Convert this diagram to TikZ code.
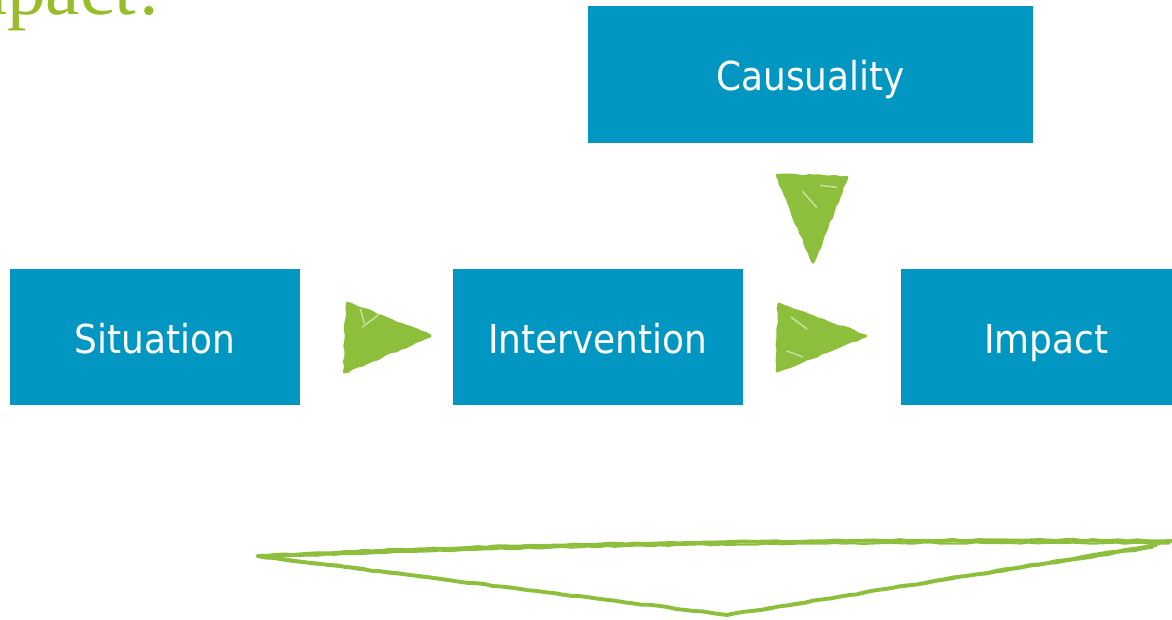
\documentclass[tikz,border=0pt]{standalone}
\usepackage{fontspec}
\setsansfont{DejaVu Sans}[FakeStretch=0.9]
\newfontfamily\headfont{Liberation Serif}
\usepackage{xcolor}
\usepackage{tikz}
\usetikzlibrary{positioning,calc,decorations.pathmorphing}
\definecolor{boxblue}{RGB}{2,150,194}
\definecolor{sketchgreen}{RGB}{141,190,60}
\definecolor{headgreen}{RGB}{152,189,42}

\begin{document}
\begin{tikzpicture}[x=0.02cm, y=-0.02cm,
    stepbox/.style={rectangle, fill=boxblue, text=white, minimum width=5.8cm, minimum height=2.74cm, inner sep=0pt, text height=18.9pt, text depth=0.2pt, font=\sffamily\fontsize{22.7}{26}\selectfont},
    sketchfill/.style={fill=sketchgreen, draw=sketchgreen, line width=1.6pt, line join=round, decorate, decoration={random steps, segment length=3pt, amplitude=0.5pt}},
    streak/.style={draw=white, opacity=0.55, line width=0.8pt, line cap=round},
    sketchline/.style={draw=sketchgreen, line width=2.2pt, line join=round, line cap=round, decorate, decoration={random steps, segment length=5pt, amplitude=0.35pt}}]
            \pgfmathsetseed{7}
            \useasboundingbox (0,0) rectangle (1172,619);
            \clip (0,0) rectangle (1172,619);

            %Nodes
            \node[font=\headfont\fontsize{44}{48}\selectfont, text=headgreen, anchor=base west, inner sep=0pt](heading) at (-79,14){Impact!};
            \node[stepbox](situation) at (155,337){Situation};
            \node[stepbox](intervention)[right=3.04cm of situation]{Intervention};
            \node[stepbox](impact)[right=3.16cm of intervention]{Impact};
            \node[stepbox, minimum width=8.9cm](causuality) at (810.5,74.5){Causuality};

            %Arrows
            \fill[sketchgreen] ($(situation.east)+(47,-34)$) -- ($(situation.east)+(130,-1)$) -- ($(situation.east)+(44,35)$) -- cycle;
            \path[sketchfill] ($(situation.east)+(47,-34)$) -- ($(situation.east)+(130,-1)$) -- ($(situation.east)+(44,35)$) -- cycle;
            \draw[streak] ($(situation.east)+(62,-10)$) -- ($(situation.east)+(78,-22)$);
            \draw[streak] ($(situation.east)+(60,-28)$) -- ($(situation.east)+(64,-14)$);
            \fill[sketchgreen] ($(intervention.east)+(36,-33)$) -- ($(intervention.east)+(123,-1)$) -- ($(intervention.east)+(34,34)$) -- cycle;
            \path[sketchfill] ($(intervention.east)+(36,-33)$) -- ($(intervention.east)+(123,-1)$) -- ($(intervention.east)+(34,34)$) -- cycle;
            \draw[streak] ($(intervention.east)+(48,-20)$) -- ($(intervention.east)+(64,-8)$);
            \draw[streak] ($(intervention.east)+(44,14)$) -- ($(intervention.east)+(60,20)$);
            \fill[sketchgreen] ($(causuality.south)+(-33.5,32)$) -- ($(causuality.south)+(36.5,34)$) -- ($(causuality.south)+(2.5,119)$) -- cycle;
            \path[sketchfill] ($(causuality.south)+(-33.5,32)$) -- ($(causuality.south)+(36.5,34)$) -- ($(causuality.south)+(2.5,119)$) -- cycle;
            \draw[streak] ($(causuality.south)+(-8,48)$) -- ($(causuality.south)+(6,64)$);
            \draw[streak] ($(causuality.south)+(10,42)$) -- ($(causuality.south)+(26,44)$);

            %Big triangle
            \draw[sketchline] (1172,541) .. controls (850,539) and (550,542) .. (258,556) -- (727,615) -- (1156,545) -- (1150,543);
            \draw[sketchline, line width=1.2pt, shift={(1,1.5)}] (1168,542) .. controls (850,540) and (550,543) .. (262,556) -- (725,613) -- (1152,546);
        \end{tikzpicture}
\end{document}
